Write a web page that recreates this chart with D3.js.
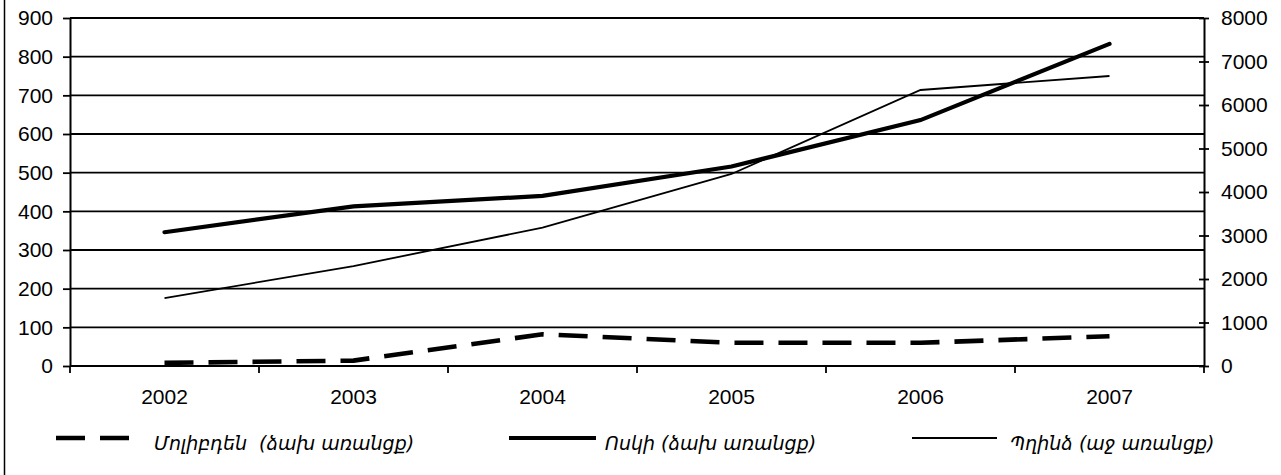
<!DOCTYPE html>
<html>
<head>
<meta charset="utf-8">
<script src="https://cdn.jsdelivr.net/npm/d3@7"></script>
<style>
  html, body { margin: 0; padding: 0; background: #fff; }
  svg { display: block; }
  text { font-family: "Liberation Sans", Arial, sans-serif; fill: #000; }
  .legend text { font-style: italic; font-family: "DejaVu Sans", "Liberation Sans", sans-serif; }
</style>
</head>
<body>
<svg id="chart" width="1281" height="475"></svg>
<script>
// Years on the category axis
const years = ["2002", "2003", "2004", "2005", "2006", "2007"];

// Molybdenum, left axis
const molybdenum = [8, 14, 82, 60, 60, 77];
// Gold, left axis
const gold = [346, 413, 440, 516, 636, 833];
// Copper, right axis
const copper = [1560, 2297, 3180, 4415, 6345, 6667];

// Tick labels
const leftTicks = [0, 100, 200, 300, 400, 500, 600, 700, 800, 900];
const rightTicks = [0, 1000, 2000, 3000, 4000, 5000, 6000, 7000, 8000];

// Legend entries
const legendLabels = ["Մոլիբդեն  (ձախ առանցք)", "Ոսկի (ձախ առանցք)", "Պղինձ (աջ առանցք)"];

const svg = d3.select("#chart");
const plotLeft = 70, plotRight = 1204, plotTop = 18, plotBottom = 366;

const x = d3.scaleBand().domain(years).range([plotLeft, plotRight]).padding(0);
const yL = d3.scaleLinear().domain([0, 900]).range([plotBottom, plotTop]);
const yR = d3.scaleLinear().domain([0, 8000]).range([plotBottom, plotTop]);
const cx = d => x(d) + x.bandwidth() / 2;

// outer frame edge
svg.append("line")
  .attr("x1", 4.5).attr("x2", 4.5).attr("y1", 0).attr("y2", 475)
  .attr("stroke", "#000").attr("stroke-width", 1.5);

// horizontal gridlines
svg.append("g").selectAll("line")
  .data(leftTicks.filter(v => v > 0))
  .join("line")
  .attr("x1", plotLeft).attr("x2", plotRight)
  .attr("y1", d => yL(d)).attr("y2", d => yL(d))
  .attr("stroke", "#000").attr("stroke-width", 1.8);

// left axis
const gL = svg.append("g").attr("transform", `translate(${plotLeft},0)`)
  .call(d3.axisLeft(yL).tickValues(leftTicks).tickFormat(d3.format("d"))
    .tickSize(7).tickPadding(10).tickSizeOuter(0));
// right axis
const gR = svg.append("g").attr("transform", `translate(${plotRight},0)`)
  .call(d3.axisRight(yR).tickValues(rightTicks).tickFormat(d3.format("d"))
    .tickSize(5).tickPadding(12).tickSizeOuter(0));
gR.selectAll(".tick line").attr("x1", -5).attr("x2", 5);

// bottom axis: ticks between categories
const gB = svg.append("g").attr("transform", `translate(0,${plotBottom})`)
  .call(d3.axisBottom(x).tickSize(0).tickPadding(23).tickSizeOuter(0));
const bounds = years.map(d => x(d)).concat([plotRight]);
gB.selectAll(".bound").data(bounds).join("line")
  .attr("class", "bound")
  .attr("x1", d => d).attr("x2", d => d)
  .attr("y1", 0).attr("y2", 7)
  .attr("stroke", "#000").attr("stroke-width", 1.8);

[gL, gR, gB].forEach(g => {
  g.selectAll("path.domain").attr("stroke", "#000").attr("stroke-width", 2);
  g.selectAll(".tick line").attr("stroke", "#000").attr("stroke-width", 1.8);
  g.selectAll("text").attr("font-size", 21).style("font-family", "'Liberation Sans', Arial, sans-serif").attr("fill", "#000");
});
gB.select("path.domain").remove();
svg.append("line").attr("x1", plotLeft).attr("x2", plotRight).attr("y1", plotBottom).attr("y2", plotBottom)
  .attr("stroke", "#000").attr("stroke-width", 2);

// series lines
const lineL = d3.line().x((d, i) => cx(years[i])).y(d => yL(d));
const lineR = d3.line().x((d, i) => cx(years[i])).y(d => yR(d));

svg.append("path").datum(copper).attr("d", lineR)
  .attr("fill", "none").attr("stroke", "#000").attr("stroke-width", 1.8);
svg.append("path").datum(gold).attr("d", lineL)
  .attr("fill", "none").attr("stroke", "#000").attr("stroke-width", 4.2).attr("stroke-linecap", "round");
svg.append("path").datum(molybdenum).attr("d", lineL)
  .attr("fill", "none").attr("stroke", "#000").attr("stroke-width", 4.6)
  .attr("stroke-dasharray", "29 15");

// legend
const legend = svg.append("g").attr("class", "legend");
const items = [
  { x1: 56, x2: 130, w: 4.6, dash: "29 15", tx: 154 },
  { x1: 509, x2: 596, w: 4.2, dash: null, tx: 605 },
  { x1: 912, x2: 997, w: 1.8, dash: null, tx: 1010 }
];
items.forEach((it, i) => {
  legend.append("line")
    .attr("x1", it.x1).attr("x2", it.x2).attr("y1", 438).attr("y2", 438)
    .attr("stroke", "#000").attr("stroke-width", it.w)
    .attr("stroke-dasharray", it.dash);
  legend.append("text")
    .attr("x", it.tx).attr("y", 450)
    .attr("font-size", 19)
    .attr("xml:space", "preserve")
    .style("white-space", "pre")
    .text(legendLabels[i]);
});
</script>
</body>
</html>
